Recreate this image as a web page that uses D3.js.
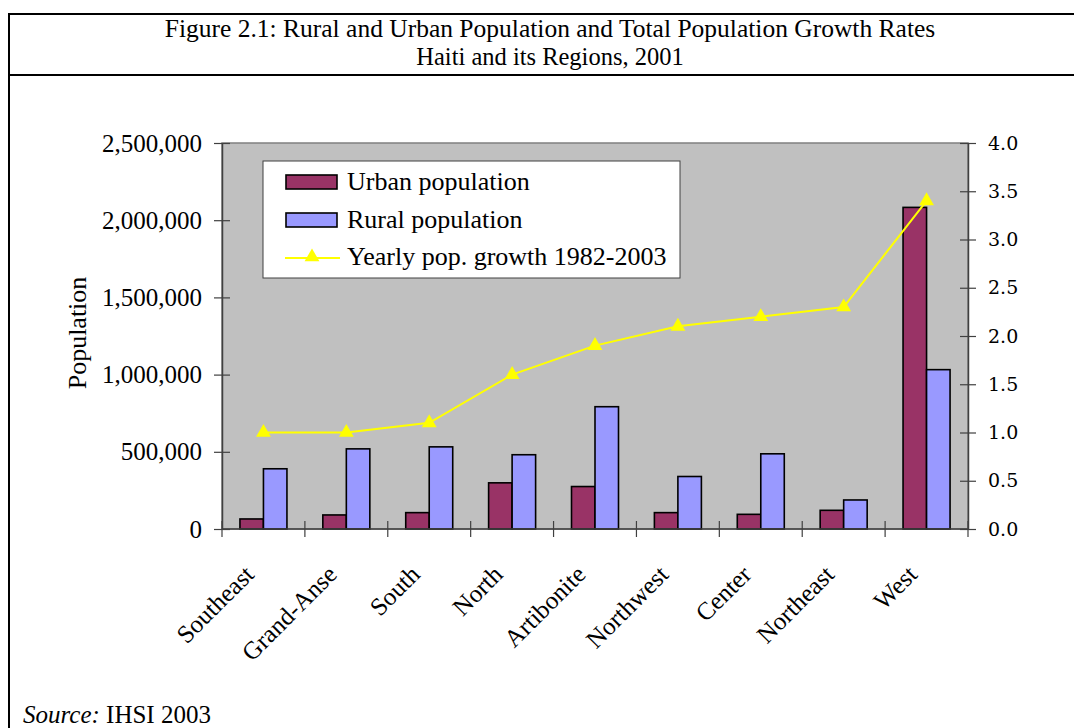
<!DOCTYPE html>
<html><head><meta charset="utf-8">
<script src="https://cdn.jsdelivr.net/npm/d3@7"></script>
<style>body{margin:0;background:#fff}svg{display:block}</style>
</head><body>
<svg id="c" width="1074" height="728"></svg>
<script>
const regions = ["Southeast","Grand-Anse","South","North","Artibonite","Northwest","Center","Northeast","West"];
const urbanPop = [65000, 91000, 106000, 299000, 275000, 106000, 95000, 121000, 2083000];
const ruralPop = [390000, 519000, 532000, 481000, 792000, 340000, 487000, 188000, 1032000];
const growthRate = [1.0, 1.0, 1.1, 1.6, 1.9, 2.1, 2.2, 2.3, 3.4];
const popTicks = [0, 500000, 1000000, 1500000, 2000000, 2500000];
const rateTicks = [0, 0.5, 1.0, 1.5, 2.0, 2.5, 3.0, 3.5, 4.0];
const titleLines = ["Figure 2.1: Rural and Urban Population and Total Population Growth Rates", "Haiti and its Regions, 2001"];
const legendLabels = ["Urban population", "Rural population", "Yearly pop. growth 1982-2003"];

const svg = d3.select("#c");
const serif = "'Liberation Serif','Times New Roman',serif";

// outer frame
svg.append("rect").attr("x",9).attr("y",14).attr("width",1080).attr("height",740)
  .attr("fill","none").attr("stroke","#000").attr("stroke-width",2);
svg.append("line").attr("x1",9).attr("x2",1074).attr("y1",75).attr("y2",75)
  .attr("stroke","#000").attr("stroke-width",2);
svg.selectAll("text.title").data(titleLines).join("text")
  .attr("x",550).attr("y",(d,i)=>37+i*28).attr("text-anchor","middle")
  .attr("font-family",serif).attr("font-size",(d,i)=>i===0?25.5:24.5)
  .text(d=>d);

const L=222, R=968, T=143, B=529;
const x = d3.scaleBand().domain(regions).range([L,R]).padding(0);
const y = d3.scaleLinear().domain([0,2500000]).range([B,T]);
const y2 = d3.scaleLinear().domain([0,4]).range([B,T]);

svg.append("rect").attr("x",L).attr("y",T).attr("width",R-L).attr("height",B-T)
  .attr("fill","#c0c0c0").attr("stroke","#808080").attr("stroke-width",1.5);

const bw = 23.5;
const g = svg.append("g");
g.selectAll("rect.u").data(regions).join("rect")
  .attr("x",d=>x(d)+x.bandwidth()/2-bw).attr("width",bw)
  .attr("y",(d,i)=>y(urbanPop[i])).attr("height",(d,i)=>B-y(urbanPop[i]))
  .attr("fill","#993366").attr("stroke","#000").attr("stroke-width",1.6);
g.selectAll("rect.r").data(regions).join("rect")
  .attr("x",d=>x(d)+x.bandwidth()/2).attr("width",bw)
  .attr("y",(d,i)=>y(ruralPop[i])).attr("height",(d,i)=>B-y(ruralPop[i]))
  .attr("fill","#9999ff").attr("stroke","#000").attr("stroke-width",1.6);

// axes
const axL = d3.axisLeft(y).tickValues(popTicks).tickFormat(d3.format(",")).tickSize(0).tickPadding(20);
const gl = svg.append("g").attr("transform",`translate(${L},0)`).call(axL);
gl.select(".domain").attr("stroke","#404040").attr("stroke-width",1.5);
gl.selectAll(".tick text").attr("font-family",serif).attr("font-size",25).attr("fill","#000");
gl.selectAll(".tick").append("line").attr("x1",-8).attr("x2",8).attr("stroke","#404040").attr("stroke-width",1.2);

const axR = d3.axisRight(y2).tickValues(rateTicks).tickFormat(d3.format(".1f")).tickSize(0).tickPadding(20);
const gr = svg.append("g").attr("transform",`translate(${R},0)`).call(axR);
gr.select(".domain").attr("stroke","#404040").attr("stroke-width",1.5);
gr.selectAll(".tick text").attr("font-family","'DejaVu Serif',serif").attr("font-size",19).attr("fill","#000");
gr.selectAll(".tick").append("line").attr("x1",-8).attr("x2",8).attr("stroke","#404040").attr("stroke-width",1.2);

// x axis
svg.append("line").attr("x1",L).attr("x2",R).attr("y1",B).attr("y2",B).attr("stroke","#404040").attr("stroke-width",1.5);
const bounds = regions.map(d=>x(d)).concat([R]);
svg.selectAll("line.xt").data(bounds).join("line")
  .attr("x1",d=>d).attr("x2",d=>d).attr("y1",B-8).attr("y2",B+8)
  .attr("stroke","#404040").attr("stroke-width",1.2);
svg.selectAll("text.xl").data(regions).join("text")
  .attr("transform",d=>`translate(${x(d)+x.bandwidth()/2-8},${576}) rotate(-45)`)
  .attr("text-anchor","end").attr("font-family",serif).attr("font-size",25).text(d=>d);

// line series
const line = d3.line().x(d=>x(d.r)+x.bandwidth()/2).y(d=>y2(d.v));
const pts = regions.map((r,i)=>({r,v:growthRate[i]}));
svg.append("path").datum(pts).attr("d",line).attr("fill","none").attr("stroke","#ffff00").attr("stroke-width",2);
const tri = d3.symbol().type(d3.symbolTriangle).size(95);
svg.selectAll("path.m").data(pts).join("path")
  .attr("transform",d=>`translate(${x(d.r)+x.bandwidth()/2},${y2(d.v)})`)
  .attr("d",tri).attr("fill","#ffff00");

// y label
svg.append("text").attr("transform","translate(86,333) rotate(-90)").attr("text-anchor","middle")
  .attr("font-family",serif).attr("font-size",26).text("Population");

// legend
const lg = svg.append("g");
lg.append("rect").attr("x",263).attr("y",161).attr("width",417).attr("height",117)
  .attr("fill","#fff").attr("stroke","#404040").attr("stroke-width",1);
lg.append("rect").attr("x",286).attr("y",175).attr("width",51).attr("height",14).attr("fill","#993366").attr("stroke","#000").attr("stroke-width",1.6);
lg.append("rect").attr("x",286).attr("y",213).attr("width",51).attr("height",14).attr("fill","#9999ff").attr("stroke","#000").attr("stroke-width",1.6);
lg.append("line").attr("x1",285).attr("x2",340).attr("y1",258).attr("y2",258).attr("stroke","#ffff00").attr("stroke-width",2);
lg.append("path").attr("transform","translate(312,257)").attr("d",tri).attr("fill","#ffff00");
lg.selectAll("text").data(legendLabels).join("text")
  .attr("x",347).attr("y",(d,i)=>190+i*37.5).attr("font-family",serif).attr("font-size",26).text(d=>d);

// source
const src = svg.append("text").attr("x",23).attr("y",723).attr("font-family",serif).attr("font-size",25);
src.append("tspan").attr("font-style","italic").text("Source:");
src.append("tspan").text(" IHSI 2003");
</script>
</body></html>
